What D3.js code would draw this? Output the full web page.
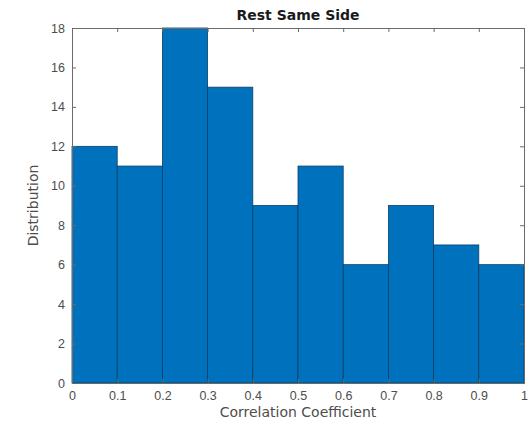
<!DOCTYPE html>
<html>
<head>
<meta charset="utf-8">
<script src="https://cdn.jsdelivr.net/npm/d3@7"></script>
<style>
  body { margin: 0; background: #fff; }
  svg { display: block; font-family: "DejaVu Sans", sans-serif; }
  .axis text { fill: #4d4d4d; font-size: 12.5px; }
  .axis path, .axis line { stroke: #6b6b6b; }
</style>
</head>
<body>
<div id="chart"></div>
<script>
// histogram bins (edges) and counts
const binEdges = [0, 0.1, 0.2, 0.3, 0.4, 0.5, 0.6, 0.7, 0.8, 0.9, 1.0];
const counts = [12, 11, 18, 15, 9, 11, 6, 9, 7, 6];
const xTicks = [0, 0.1, 0.2, 0.3, 0.4, 0.5, 0.6, 0.7, 0.8, 0.9, 1];
const yTicks = [0, 2, 4, 6, 8, 10, 12, 14, 16, 18];

const W = 529, H = 428;
const margin = {top: 28, right: 5, bottom: 45, left: 72};
const width = W - margin.left - margin.right;
const height = H - margin.top - margin.bottom;

const svg = d3.select("#chart").append("svg")
    .attr("width", W).attr("height", H)
    .append("g")
    .attr("transform", `translate(${margin.left},${margin.top})`);

const x = d3.scaleLinear().domain([0, 1]).range([0, width]);
const y = d3.scaleLinear().domain([0, 18]).range([height, 0]);

const bins = counts.map((c, i) => ({x0: binEdges[i], x1: binEdges[i + 1], n: c}));

// bars
svg.selectAll("rect.bar")
    .data(bins)
    .join("rect")
    .attr("class", "bar")
    .attr("x", d => x(d.x0))
    .attr("y", d => y(d.n))
    .attr("width", d => x(d.x1) - x(d.x0))
    .attr("height", d => y(0) - y(d.n))
    .attr("fill", "#0072BD")
    .attr("stroke", "#0a3f66")
    .attr("stroke-width", 0.8);

// axes, ticks pointing inward like matlab
const tickLen = 4;
svg.append("g").attr("class", "axis")
    .attr("transform", `translate(0,${height})`)
    .call(d3.axisBottom(x).tickValues(xTicks).tickSize(-tickLen).tickPadding(8)
        .tickFormat(d => d === 0 || d === 1 ? d3.format("d")(d) : d3.format(".1f")(d)));
svg.append("g").attr("class", "axis")
    .call(d3.axisLeft(y).tickValues(yTicks).tickSize(-tickLen).tickPadding(7));
svg.append("g").attr("class", "axis")
    .call(d3.axisTop(x).tickValues(xTicks).tickSize(-tickLen).tickFormat(""));
svg.append("g").attr("class", "axis")
    .attr("transform", `translate(${width},0)`)
    .call(d3.axisRight(y).tickValues(yTicks).tickSize(-tickLen).tickFormat(""));

// title and labels
svg.append("text")
    .attr("x", width / 2).attr("y", -8)
    .attr("text-anchor", "middle")
    .style("font-size", "14px").style("font-weight", "bold")
    .attr("fill", "#1a1a1a")
    .text("Rest Same Side");

svg.append("text")
    .attr("x", width / 2).attr("y", height + 34)
    .attr("text-anchor", "middle")
    .style("font-size", "14px")
    .attr("fill", "#4d4d4d")
    .text("Correlation Coefficient");

svg.append("text")
    .attr("transform", `translate(${-34},${height / 2}) rotate(-90)`)
    .attr("text-anchor", "middle")
    .style("font-size", "14px")
    .attr("fill", "#4d4d4d")
    .text("Distribution");
</script>
</body>
</html>
